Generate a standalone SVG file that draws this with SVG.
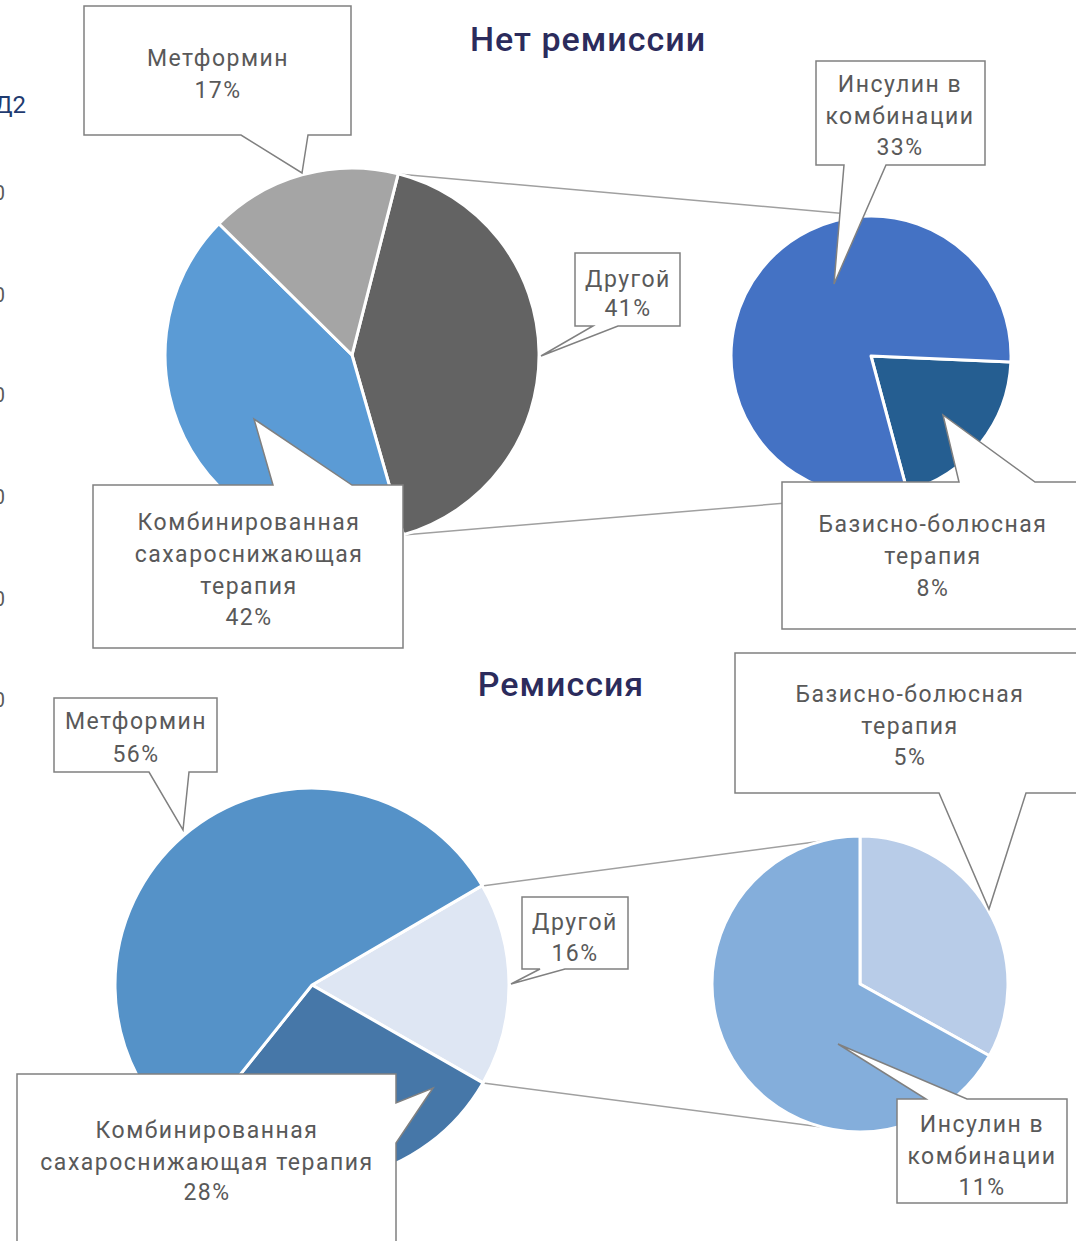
<svg xmlns="http://www.w3.org/2000/svg" width="1076" height="1241" viewBox="0 0 1076 1241">
<style>
.lbl{font-family:Roboto,"Liberation Sans",sans-serif;font-size:23px;font-weight:400;fill:#595959;text-anchor:middle;letter-spacing:1.5px}
.ttl{font-family:Roboto,"Liberation Sans",sans-serif;font-size:34px;font-weight:500;fill:#2B2B5C;text-anchor:middle;letter-spacing:1px}
.axis{font-family:Roboto,"Liberation Sans",sans-serif;font-size:20px;fill:#595959;text-anchor:end}
.co{fill:#FFFFFF;stroke:#808080;stroke-width:1.5}
.sl{stroke:#FFFFFF;stroke-width:3;stroke-linejoin:round}
.cn{stroke:#A0A0A0;stroke-width:1.5;fill:none}
</style>
<rect width="1076" height="1241" fill="#FFFFFF"/>
<g id="axis-fragment">
<text x="26" y="113" style="font-family:Roboto,'Liberation Sans',sans-serif;font-size:24px;fill:#1F3B70;text-anchor:end">Д2</text>
<text class="axis" x="5" y="200">0</text>
<text class="axis" x="5" y="302">0</text>
<text class="axis" x="5" y="402">0</text>
<text class="axis" x="5" y="504">0</text>
<text class="axis" x="5" y="606">0</text>
<text class="axis" x="5" y="707">0</text>
</g>
<g id="connectors">
<line class="cn" x1="398" y1="174" x2="871" y2="216"/>
<line class="cn" x1="403.5" y1="535" x2="871" y2="496"/>
<line class="cn" x1="482" y1="886" x2="860" y2="836"/>
<line class="cn" x1="483" y1="1083" x2="860" y2="1132"/>
</g>
<g id="title-top"><text class="ttl" x="588" y="51">Нет ремиссии</text></g>
<g id="title-bottom"><text class="ttl" x="561" y="696">Ремиссия</text></g>
<g id="pie-no-remission">
<path class="sl" fill="#636363" d="M352,355 L398.2,173.8 A187,187 0 0 1 403.5,534.8 Z"/>
<path class="sl" fill="#5B9BD5" d="M352,355 L403.5,534.8 A187,187 0 0 1 218.9,223.7 Z"/>
<path class="sl" fill="#A5A5A5" d="M352,355 L218.9,223.7 A187,187 0 0 1 398.2,173.8 Z"/>
</g>
<g id="pie-no-remission-other">
<path class="sl" fill="#255E91" d="M871,356 L1010.9,362.1 A140,140 0 0 1 907.2,491.2 Z"/>
<path class="sl" fill="#4472C4" d="M871,356 L907.2,491.2 A140,140 0 1 1 1010.9,362.1 Z"/>
</g>
<g id="pie-remission">
<path class="sl" fill="#DEE6F3" d="M312,985 L482.1,885.6 A197,197 0 0 1 483,1082.9 Z"/>
<path class="sl" fill="#4677A8" d="M312,985 L483,1082.9 A197,197 0 0 1 188.8,1138.7 Z"/>
<path class="sl" fill="#5592C8" d="M312,985 L188.8,1138.7 A197,197 0 1 1 482.1,885.6 Z"/>
</g>
<g id="pie-remission-other">
<path class="sl" fill="#B8CCE8" d="M860,984 L860,836 A148,148 0 0 1 989.4,1055.8 Z"/>
<path class="sl" fill="#84AEDB" d="M860,984 L989.4,1055.8 A148,148 0 1 1 860,836 Z"/>
</g>
<g id="callout-metformin-17">
<path class="co" d="M84,6 H351 V135 H308 L302,173 L241,135 H84 Z"/>
<text class="lbl" x="218" y="66">Метформин</text>
<text class="lbl" x="218" y="98">17%</text>
</g>
<g id="callout-insulin-33">
<path class="co" d="M816,61 H985 V165 H886 L834,284 L844,165 H816 Z"/>
<text class="lbl" x="900" y="92">Инсулин в</text>
<text class="lbl" x="900" y="124">комбинации</text>
<text class="lbl" x="900" y="155">33%</text>
</g>
<g id="callout-other-41">
<path class="co" d="M575,253 H680 V326 H618 L541,356 L593,326 H575 Z"/>
<text class="lbl" x="628" y="287">Другой</text>
<text class="lbl" x="628" y="316">41%</text>
</g>
<g id="callout-combined-42">
<path class="co" d="M93,485 H273 L254,419 L352,485 H403 V648 H93 Z"/>
<text class="lbl" x="249" y="530">Комбинированная</text>
<text class="lbl" x="249" y="562">сахароснижающая</text>
<text class="lbl" x="249" y="594">терапия</text>
<text class="lbl" x="249" y="625">42%</text>
</g>
<g id="callout-basal-bolus-8">
<path class="co" d="M782,482 H959 L943,415 L1035,482 H1085 V629 H782 Z"/>
<text class="lbl" x="933" y="532">Базисно-болюсная</text>
<text class="lbl" x="933" y="564">терапия</text>
<text class="lbl" x="933" y="596">8%</text>
</g>
<g id="callout-metformin-56">
<path class="co" d="M54,698 H217 V772 H189 L183,830 L149,772 H54 Z"/>
<text class="lbl" x="136" y="729">Метформин</text>
<text class="lbl" x="136" y="762">56%</text>
</g>
<g id="callout-basal-bolus-5">
<path class="co" d="M735,653 H1085 V793 H1026 L989,909 L939,793 H735 Z"/>
<text class="lbl" x="910" y="702">Базисно-болюсная</text>
<text class="lbl" x="910" y="734">терапия</text>
<text class="lbl" x="910" y="765">5%</text>
</g>
<g id="callout-other-16">
<path class="co" d="M522,897 H628 V969 H565 L511,984 L540,969 H522 Z"/>
<text class="lbl" x="575" y="930">Другой</text>
<text class="lbl" x="575" y="961">16%</text>
</g>
<g id="callout-combined-28">
<path class="co" d="M17,1074 H396 V1103 L433,1088 L396,1143 V1250 H17 Z"/>
<text class="lbl" x="207" y="1138">Комбинированная</text>
<text class="lbl" x="207" y="1170">сахароснижающая терапия</text>
<text class="lbl" x="207" y="1200">28%</text>
</g>
<g id="callout-insulin-11">
<path class="co" d="M897,1099 H926 L838,1044 L967,1099 H1067 V1203 H897 Z"/>
<text class="lbl" x="982" y="1132">Инсулин в</text>
<text class="lbl" x="982" y="1164">комбинации</text>
<text class="lbl" x="982" y="1195">11%</text>
</g>
</svg>
